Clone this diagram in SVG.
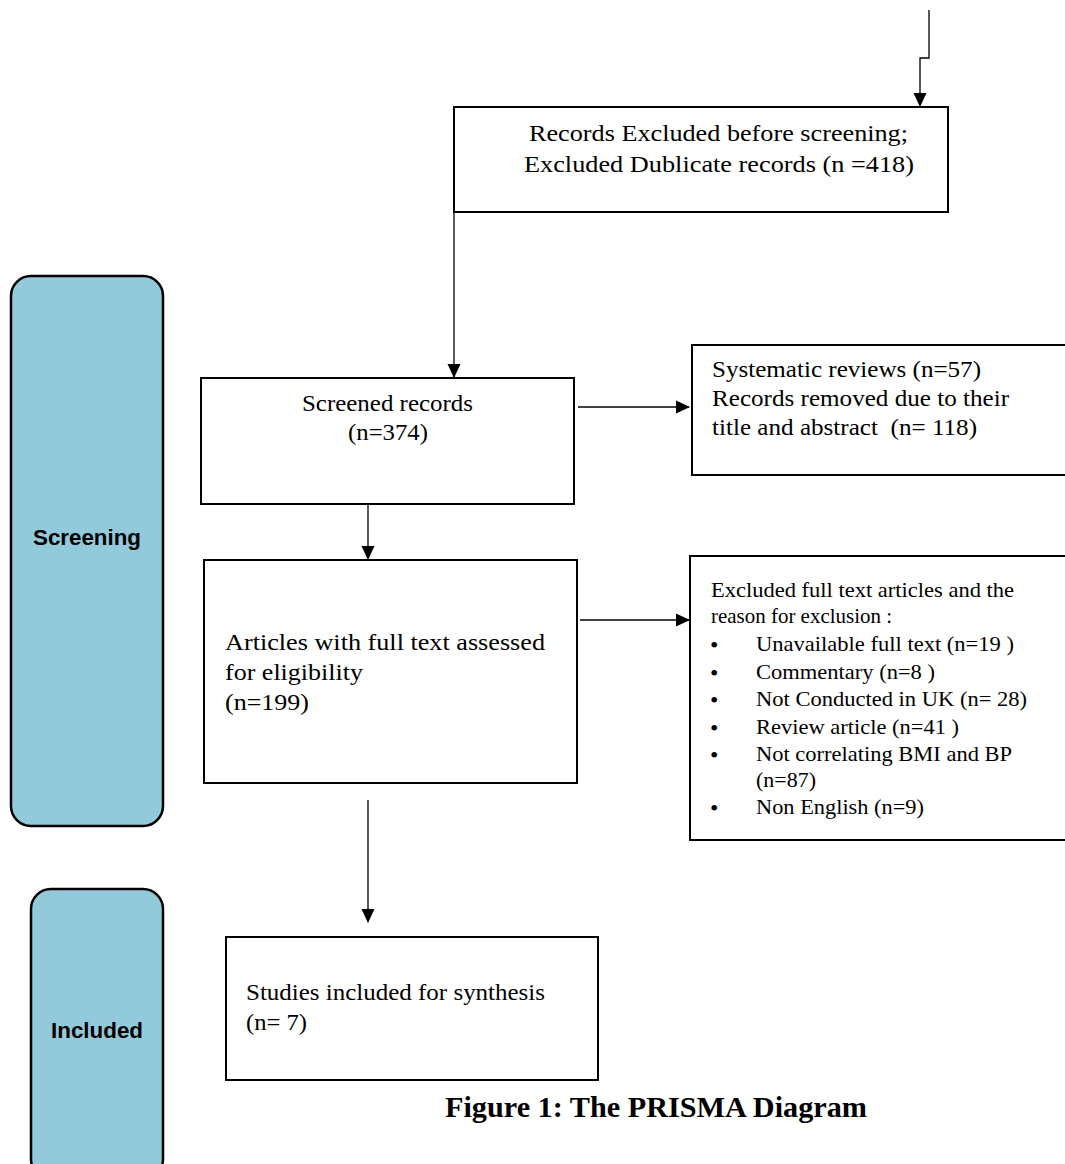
<svg xmlns="http://www.w3.org/2000/svg" width="1065" height="1164" viewBox="0 0 1065 1164">
<style>
.box{fill:#fff;stroke:#000;stroke-width:2}
.stage{fill:#92CADB;stroke:#000;stroke-width:2.5}
.t{font-family:"Liberation Serif",serif;font-size:23px;fill:#000}
.s{font-family:"Liberation Serif",serif;font-size:21px;fill:#000}
.b{font-family:"Liberation Serif",serif;font-size:24px;fill:#000}
.lab{font-family:"Liberation Sans",sans-serif;font-size:22px;font-weight:bold;fill:#000}
.cap{font-family:"Liberation Serif",serif;font-size:29px;font-weight:bold;fill:#000}
.c{fill:none;stroke:#000;stroke-width:1.3}
</style>
<defs>
<marker id="ah" markerWidth="14" markerHeight="14" refX="13" refY="7" orient="auto" markerUnits="userSpaceOnUse">
<path d="M0,0.5 L14,7 L0,13.5 Z" fill="#000"/>
</marker>
</defs>
<g id="stage-screening"><rect class="stage" x="11" y="276" width="152" height="550" rx="20"/><text class="lab" x="33" y="545" textLength="108" lengthAdjust="spacingAndGlyphs">Screening</text></g>
<g id="stage-included"><rect class="stage" x="31" y="889" width="132" height="290" rx="20"/><text class="lab" x="51" y="1038" textLength="92" lengthAdjust="spacingAndGlyphs">Included</text></g>
<g id="excluded-before"><rect class="box" x="454" y="107" width="494" height="105"/>
<text class="t" x="529" y="141" textLength="379" lengthAdjust="spacingAndGlyphs">Records Excluded before screening;</text>
<text class="t" x="524" y="172" textLength="390" lengthAdjust="spacingAndGlyphs">Excluded Dublicate records (n =418)</text></g>
<g id="screened"><rect class="box" x="201" y="378" width="373" height="126"/>
<text class="t" x="302" y="411" textLength="171" lengthAdjust="spacingAndGlyphs">Screened records</text>
<text class="t" x="348" y="440" textLength="80" lengthAdjust="spacingAndGlyphs">(n=374)</text></g>
<g id="sys-reviews"><rect class="box" x="692" y="345" width="380" height="130"/>
<text class="t" x="712" y="377" textLength="269" lengthAdjust="spacingAndGlyphs">Systematic reviews (n=57)</text>
<text class="t" x="712" y="406" textLength="297" lengthAdjust="spacingAndGlyphs">Records removed due to their</text>
<text class="t" x="712" y="435" xml:space="preserve" textLength="265" lengthAdjust="spacingAndGlyphs">title and abstract  (n= 118)</text></g>
<g id="fulltext"><rect class="box" x="204" y="560" width="373" height="223"/>
<text class="t" x="225" y="650" textLength="320" lengthAdjust="spacingAndGlyphs">Articles with full text assessed</text>
<text class="t" x="225" y="680" textLength="138" lengthAdjust="spacingAndGlyphs">for eligibility</text>
<text class="t" x="225" y="710" textLength="84" lengthAdjust="spacingAndGlyphs">(n=199)</text></g>
<g id="excluded-full"><rect class="box" x="690" y="556" width="380" height="284"/>
<text class="s" x="711" y="597" textLength="303" lengthAdjust="spacingAndGlyphs">Excluded full text articles and the</text>
<text class="s" x="711" y="623" textLength="181" lengthAdjust="spacingAndGlyphs">reason for exclusion :</text>
<g class="s">
<text class="b" x="710" y="653">•</text><text x="756" y="651" textLength="258" lengthAdjust="spacingAndGlyphs">Unavailable full text (n=19 )</text>
<text class="b" x="710" y="681">•</text><text x="756" y="679" textLength="179" lengthAdjust="spacingAndGlyphs">Commentary (n=8 )</text>
<text class="b" x="710" y="708">•</text><text x="756" y="706" textLength="271" lengthAdjust="spacingAndGlyphs">Not Conducted in UK (n= 28)</text>
<text class="b" x="710" y="736">•</text><text x="756" y="734" textLength="203" lengthAdjust="spacingAndGlyphs">Review article (n=41 )</text>
<text class="b" x="710" y="763">•</text><text x="756" y="761" textLength="256" lengthAdjust="spacingAndGlyphs">Not correlating BMI and BP</text>
<text x="756" y="787" textLength="60" lengthAdjust="spacingAndGlyphs">(n=87)</text>
<text class="b" x="710" y="816">•</text><text x="756" y="814" textLength="168" lengthAdjust="spacingAndGlyphs">Non English (n=9)</text>
</g></g>
<g id="included-studies"><rect class="box" x="226" y="937" width="372" height="143"/>
<text class="t" x="246" y="1000" textLength="299" lengthAdjust="spacingAndGlyphs">Studies included for synthesis</text>
<text class="t" x="246" y="1030" textLength="61" lengthAdjust="spacingAndGlyphs">(n= 7)</text></g>
<g id="connectors">
<path class="c" d="M929,10 V58 H920 V106" marker-end="url(#ah)"/>
<path class="c" d="M454,212 V377" marker-end="url(#ah)"/>
<path class="c" d="M578,407 H689" marker-end="url(#ah)"/>
<path class="c" d="M368,505 V559" marker-end="url(#ah)"/>
<path class="c" d="M580,620 H689" marker-end="url(#ah)"/>
<path class="c" d="M368,800 V922" marker-end="url(#ah)"/>
</g>
<text class="cap" x="445" y="1117" textLength="422" lengthAdjust="spacingAndGlyphs">Figure 1: The PRISMA Diagram</text>
</svg>
